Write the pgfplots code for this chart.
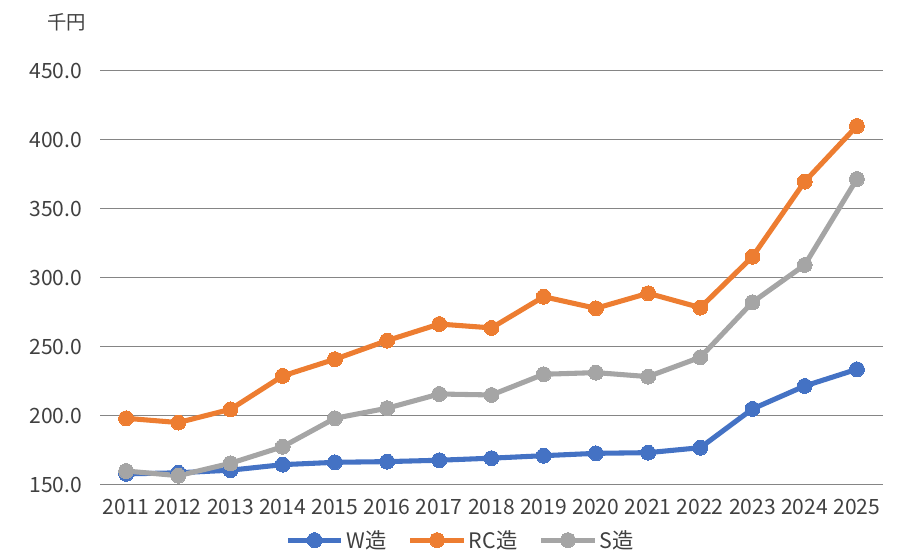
\documentclass[border=0pt]{standalone}
\usepackage{pgfplots}
\pgfplotsset{compat=1.18}
\usepackage{fontspec}
\setmainfont{Noto Sans CJK JP}
\definecolor{cW}{HTML}{4472C4}
\definecolor{cRC}{HTML}{ED7D31}
\definecolor{cS}{HTML}{A5A5A5}
\definecolor{txt}{HTML}{404040}
\definecolor{grd}{HTML}{858585}
\begin{document}
\begin{tikzpicture}
\path[use as bounding box] (0,0) rectangle (680.25pt,420pt);
\begin{axis}[
  at={(75pt,56.5pt)}, anchor=south west,
  scale only axis, width=587.25pt, height=310.5pt,
  xmin=2010.5, xmax=2025.5, ymin=150, ymax=450,
  ytick={150,200,...,450},
  xtick={2011,...,2025},
  ymajorgrids, major grid style={grd, line width=1.2pt},
  axis line style={draw=none},
  tick style={draw=none},
  clip=false,
  /pgf/number format/assume math mode=true,
  yticklabel style={/pgf/number format/fixed, /pgf/number format/fixed zerofill, /pgf/number format/precision=1, /pgf/number format/1000 sep={}, xshift=-10pt},
  xticklabel style={/pgf/number format/1000 sep={}, yshift=-7pt},
  ticklabel style={font=\fontsize{15.8}{18}\selectfont, text=txt},
  legend columns=3,
  legend style={at={(0.461,-0.134)}, anchor=center, draw=none, fill=none,
    font=\fontsize{16}{18}\selectfont, text=txt,
    /tikz/every even column/.append style={column sep=14pt},
    inner sep=0pt},
  legend image code/.code={
    \draw[#1, mark=none] (0pt,0pt) -- (40pt,0pt);
    \path[#1, line width=0pt] plot coordinates {(20pt,0pt)};
  },
  every axis plot/.append style={line width=3.8pt, mark=*, mark size=5.6pt},
]
\addplot[cW, mark options={fill=cW, draw=cW, line width=0pt}] coordinates {
(2011,157.8) (2012,158.6) (2013,160.5) (2014,164.5) (2015,166.2) (2016,166.7) (2017,167.7) (2018,169.2) (2019,171.0) (2020,172.7) (2021,173.2) (2022,176.8) (2023,204.9) (2024,221.5) (2025,233.6)};
\addlegendentry{W造}
\addplot[cRC, mark options={fill=cRC, draw=cRC, line width=0pt}] coordinates {
(2011,198.1) (2012,195.0) (2013,204.6) (2014,228.8) (2015,240.9) (2016,254.4) (2017,266.4) (2018,263.6) (2019,286.2) (2020,277.8) (2021,288.7) (2022,278.3) (2023,315.2) (2024,369.6) (2025,409.9)};
\addlegendentry{RC造}
\addplot[cS, mark options={fill=cS, draw=cS, line width=0pt}] coordinates {
(2011,159.9) (2012,156.5) (2013,165.5) (2014,177.5) (2015,198.1) (2016,205.4) (2017,215.7) (2018,215.0) (2019,230.0) (2020,231.2) (2021,228.3) (2022,242.3) (2023,282.2) (2024,309.2) (2025,371.5)};
\addlegendentry{S造}
\end{axis}
\node[text=txt, font=\fontsize{14.5}{16}\selectfont] at (50pt,403pt) {千円};
\end{tikzpicture}
\end{document}
